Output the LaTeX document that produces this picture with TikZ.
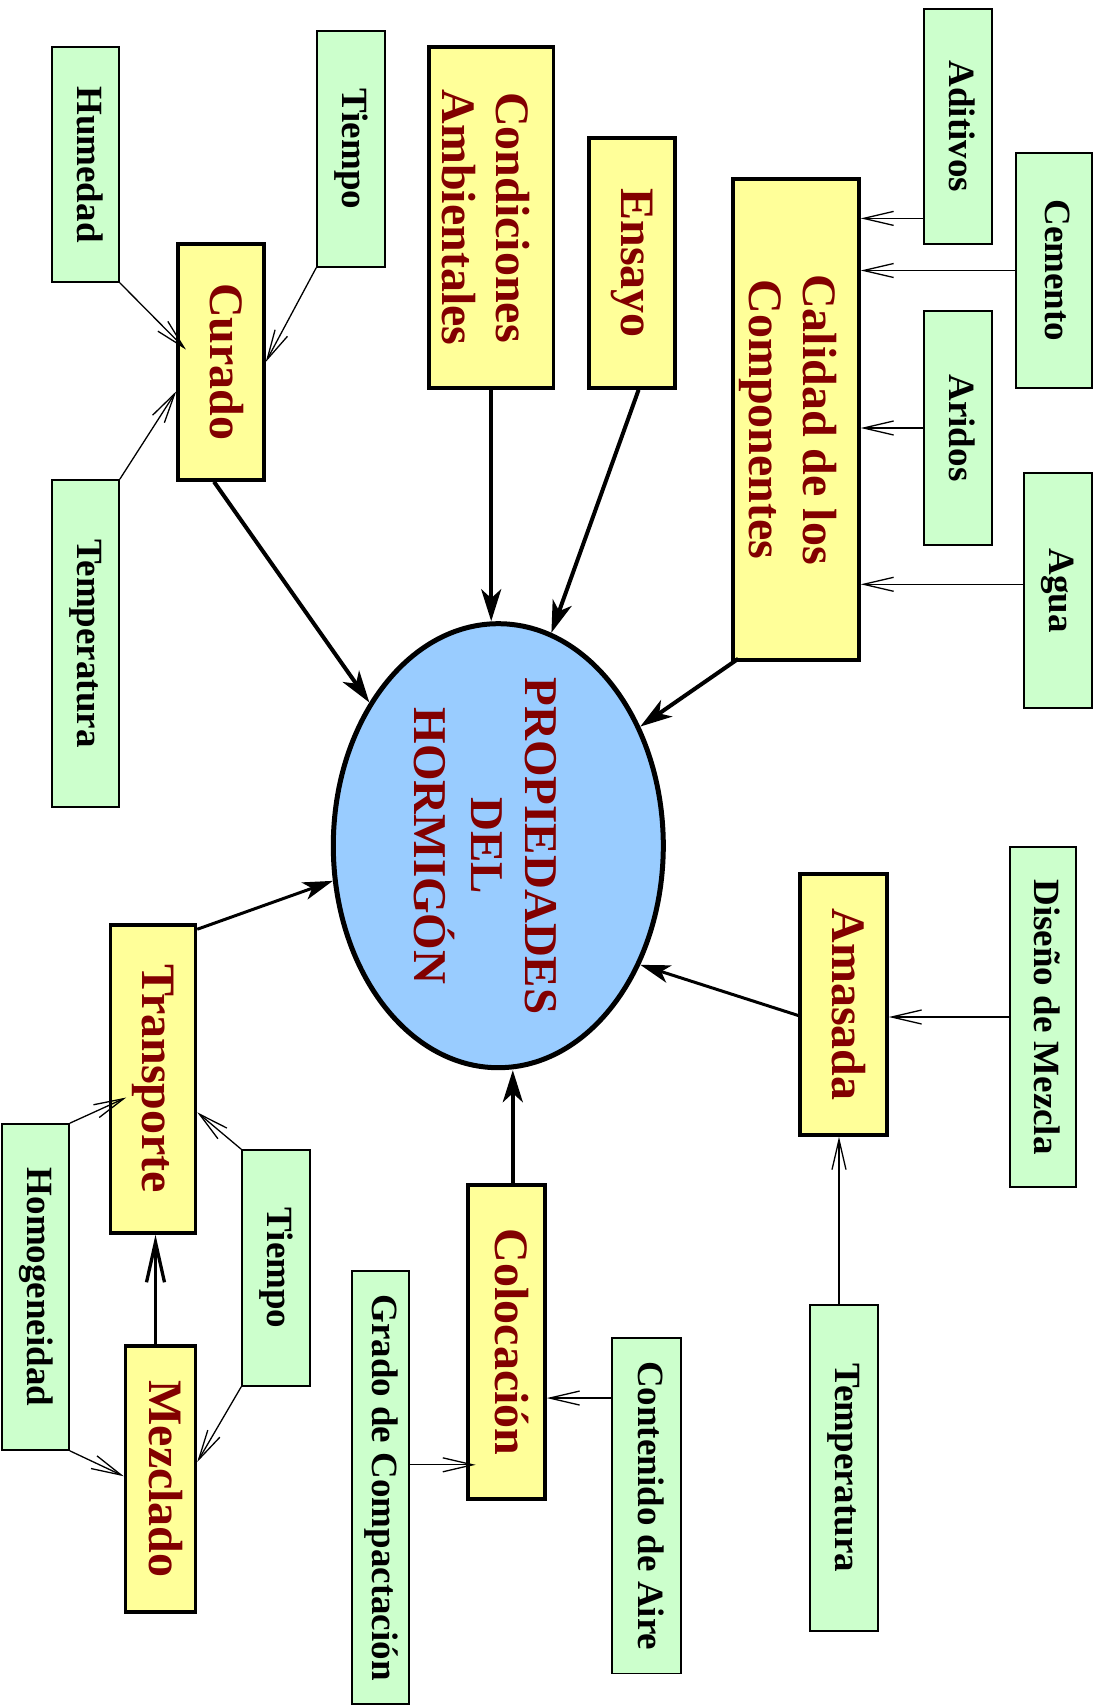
\documentclass[tikz,border=0pt]{standalone}
\usepackage{fontspec}
\usepackage{graphicx}
\setmainfont{Liberation Serif}
\usetikzlibrary{arrows.meta,shapes.geometric}
\definecolor{yfill}{RGB}{255,255,153}
\definecolor{gfill}{RGB}{204,255,204}
\definecolor{bfill}{RGB}{153,204,255}
\definecolor{dred}{RGB}{130,0,0}
\newcommand{\vt}[2][0pt]{\hspace*{#1}\rotatebox{-90}{\begin{tabular}{@{}c@{}}#2\end{tabular}}}
\tikzset{
  yellowbox/.style={draw=black, line width=3.5pt, fill=yfill, inner sep=0pt, text=dred,
    font=\fontsize{48}{54}\selectfont\bfseries},
  greenbox/.style={draw=black, line width=1.6pt, fill=gfill, inner sep=0pt, text=black,
    font=\fontsize{37}{42}\selectfont\bfseries},
  thinarr/.style={line width=1.3pt, -{Straight Barb[length=30pt,width=14pt]}},
  thickarr/.style={line width=4pt, -{Stealth[length=32pt,width=20pt,inset=9pt]}},
  midarr/.style={line width=3pt, -{Stealth[length=30pt,width=18pt,inset=8pt]}},
  vthick/.style={line width=3.3pt, -{Straight Barb[length=40pt,width=18pt]}},
}
\begin{document}
\begin{tikzpicture}[x=1pt,y=-1pt]
\fill[white] (0,0) rectangle (1099,1707);
\useasboundingbox (0,0) rectangle (1099,1707);

% ellipse
\node[ellipse, draw=black, line width=5pt, fill=bfill, minimum width=330pt, minimum height=444pt, inner sep=0pt] (props) at (498.3,845.7) {};
\node[inner sep=0pt, text=dred, font=\fontsize{47}{54}\selectfont\bfseries] (propstext) at (481,846) {\vt{PROPIEDADES\\DEL\\HORMIGÓN}};

% yellow boxes
\node[yellowbox, minimum width=86pt, minimum height=236pt] (curado) at (221,362) {\vt{Curado}};
\node[yellowbox, minimum width=124.5pt, minimum height=341pt] (condic) at (491.2,217.5) {\vt[-22pt]{Condiciones\\Ambientales}};
\node[yellowbox, minimum width=86pt, minimum height=250pt] (ensayo) at (632,263) {\vt{Ensayo}};
\node[yellowbox, minimum width=126pt, minimum height=481pt] (calidad) at (796,419.5) {\vt[-18pt]{Calidad de los\\Componentes}};
\node[yellowbox, minimum width=87pt, minimum height=261pt] (amasada) at (843.5,1004.5) {\vt{Amasada}};
\node[yellowbox, minimum width=77pt, minimum height=314pt] (colocacion) at (506.5,1342) {\vt{Colocación}};
\node[yellowbox, minimum width=85pt, minimum height=308pt] (transporte) at (153,1079) {\vt{Transporte}};
\node[yellowbox, minimum width=70pt, minimum height=266pt] (mezclado) at (160.5,1479) {\vt{Mezclado}};

% green boxes
\node[greenbox, minimum width=67pt, minimum height=235pt] (humedad) at (85.5,164.5) {\vt{Humedad}};
\node[greenbox, minimum width=68pt, minimum height=236pt] (tiempoA) at (351,149) {\vt{Tiempo}};
\node[greenbox, minimum width=67pt, minimum height=327pt] (tempA) at (85.5,643.5) {\vt{Temperatura}};
\node[greenbox, minimum width=68pt, minimum height=235pt] (aditivos) at (958,126.5) {\vt{Aditivos}};
\node[greenbox, minimum width=76pt, minimum height=235pt] (cemento) at (1054,270.5) {\vt{Cemento}};
\node[greenbox, minimum width=68pt, minimum height=234pt] (aridos) at (958,428) {\vt{Aridos}};
\node[greenbox, minimum width=68pt, minimum height=235pt] (agua) at (1058,590.5) {\vt{Agua}};
\node[greenbox, minimum width=66pt, minimum height=340pt] (diseno) at (1043,1017) {\vt{Diseño de Mezcla}};
\node[greenbox, minimum width=68pt, minimum height=326pt] (tempB) at (844,1468) {\vt{Temperatura}};
\node[greenbox, minimum width=69pt, minimum height=335.5pt] (contenido) at (646.5,1505.75) {\vt{Contenido de Aire}};
\node[greenbox, minimum width=57pt, minimum height=433pt] (grado) at (380.5,1487.5) {\vt{Grado de Compactación}};
\node[greenbox, minimum width=68pt, minimum height=236pt] (tiempoB) at (276,1268) {\vt{Tiempo}};
\node[greenbox, minimum width=67pt, minimum height=326pt] (homog) at (35.5,1287) {\vt{Homogeneidad}};

% Curado inputs
\draw[thinarr] (humedad.south east) -- ([xshift=9.7pt,yshift=12.4pt]curado.west);
\draw[thinarr] (tiempoA.south west) -- (curado.east);
\draw[thinarr] (tempA.north east) -- ([yshift=-29.3pt]curado.west);

% to the ellipse
\draw[thickarr] ([xshift=-7pt]curado.south) -- (props.132);
\draw[thickarr] (condic.south) -- (condic.south |- props.north);
\draw[thickarr] ([xshift=6.6pt]ensayo.south) -- (props.76);
\draw[thickarr] ([xshift=7pt,yshift=3pt]calidad.south west) -- (props.40);

% Calidad inputs
\coordinate (ad) at ([yshift=-91.9pt]aditivos.west);
\draw[thinarr] (ad) -- (ad -| calidad.east);
\draw[thinarr] (cemento.west) -- (cemento.west -| calidad.east);
\draw[thinarr] (aridos.west) -- (aridos.west -| calidad.east);
\coordinate (ag) at ([yshift=6.2pt]agua.west);
\draw[thinarr] (ag) -- (ag -| calidad.east);

% Amasada
\draw[thinarr] (diseno.west) -- (diseno.west -| amasada.east);
\coordinate (tb) at ([xshift=-5pt]tempB.north);
\draw[thinarr] (tb) -- (tb |- amasada.south);
\draw[midarr] ([yshift=-11pt]amasada.west) -- (props.-40);

% Colocacion
\coordinate (ca) at ([yshift=107.7pt]contenido.west);
\draw[thinarr] (ca) -- (ca -| colocacion.east);
\coordinate (gc) at ([yshift=22.7pt]grado.east);
\coordinate (gc2) at (gc -| colocacion.west);
\draw[thinarr] (gc) -- ([xshift=9.4pt]gc2);
\coordinate (co) at ([xshift=6.3pt]colocacion.north);
\draw[thickarr] (co) -- (co |- props.south);

% Transporte / Mezclado
\draw[midarr] ([yshift=-6pt]transporte.north east) -- (props.192);
\coordinate (mz) at ([xshift=-5pt]mezclado.north);
\draw[vthick] (mz) -- (mz |- transporte.south);
\draw[thinarr] (homog.north east) -- ([xshift=17.5pt,yshift=-18.5pt]transporte.west);
\draw[thinarr] (homog.south east) -- ([yshift=2.8pt]mezclado.west);
\draw[thinarr] (tiempoB.north west) -- ([yshift=-33.3pt]transporte.east);
\draw[thinarr] (tiempoB.south west) -- ([yshift=17pt]mezclado.east);
\end{tikzpicture}
\end{document}
